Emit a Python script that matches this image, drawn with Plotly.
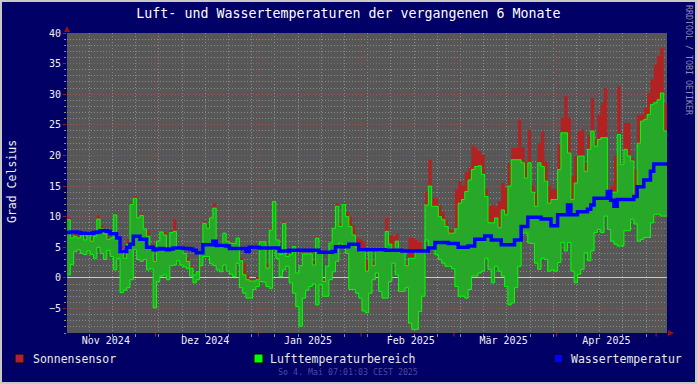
import pandas as pd
import plotly.graph_objects as go

# ---------------- data (daily values) ----------------
START = pd.Timestamp("2024-11-04 07:01:03")
END = pd.Timestamp("2025-05-04 07:01:03")

air_max = [
    9.5, 6.5, 6.8, 6.5, 7.2, 6.2, 7.5, 6.0, 6.8, 9.6,
    8.0, 7.2, 6.3, 6.5, 10.3, 6.2, 4.6, 3.2, 5.5, 12.0,
    13.0, 9.8, 10.2, 8.0, 6.8, 5.0, 2.7, 6.0, 7.5, 7.0,
    4.9, 7.4, 7.6, 4.6, 4.6, 4.0, 2.7, 1.6, 0.5, 1.0,
    4.0, 8.9, 8.1, 9.8, 11.4, 5.4, 5.0, 7.3, 6.0, 5.7,
    5.6, 6.5, 2.8, 0.5, -0.3, -0.5, -0.5, -0.3, 5.9, 5.9,
    1.6, 7.8, 12.5, 6.2, 3.8, 8.9, 3.5, 3.8, 5.1, 0.8,
    2.0, 3.9, 3.9, 3.9, 2.1, 6.5, 4.3, -0.6, 1.9, 5.7,
    8.1, 11.7, 8.4, 12.0, 10.0, 8.4, 7.0, 5.0, 4.3, 4.3,
    1.1, 4.4, 2.0, 4.5, 4.3, 4.3, 7.6, 5.5, 4.5, 6.0,
    4.3, 4.3, 2.0, 3.2, 3.2, 4.3, 4.3, 4.3, 11.9, 15.0,
    11.7, 11.7, 10.0, 9.5, 8.4, 7.3, 7.3, 8.0, 12.2, 12.8,
    14.1, 16.0, 17.7, 18.2, 18.3, 16.9, 13.3, 9.0, 9.0, 9.8,
    8.2, 11.1, 10.3, 15.0, 19.3, 19.3, 19.3, 18.8, 16.3, 18.8,
    14.0, 11.7, 18.8, 18.2, 15.8, 12.2, 12.8, 12.8, 17.7, 23.7,
    23.7, 20.4, 12.8, 15.5, 19.9, 19.9, 17.4, 21.0, 24.0, 21.5,
    22.6, 22.9, 22.9, 14.0, 14.0, 14.0, 23.4, 18.5, 21.0, 19.9,
    19.1, 13.4, 22.0, 25.6, 25.9, 26.7, 28.3, 28.6, 29.1, 30.2,
    24.0,
]

sun_max = [
    10.0, 6.5, 7.3, 7.0, 7.6, 6.2, 7.5, 6.3, 6.8, 10.2,
    8.6, 7.2, 6.6, 6.5, 10.6, 6.2, 5.2, 3.5, 6.4, 12.3,
    13.4, 9.8, 10.5, 8.0, 7.8, 5.5, 3.0, 6.0, 7.5, 7.5,
    4.9, 7.7, 9.5, 4.6, 4.6, 4.0, 3.2, 2.0, 0.8, 1.0,
    4.0, 9.2, 8.6, 9.8, 12.2, 5.4, 5.0, 7.3, 6.3, 6.0,
    5.6, 6.5, 3.3, 2.5, 0.5, -0.2, -0.2, 0.2, 5.9, 5.9,
    2.3, 8.1, 12.6, 6.2, 3.8, 9.2, 3.8, 4.0, 5.1, 0.8,
    2.0, 3.9, 3.9, 3.9, 2.7, 6.8, 4.3, -0.3, 1.9, 5.7,
    8.1, 12.2, 9.0, 12.2, 10.8, 10.0, 8.6, 6.5, 6.3, 6.0,
    3.0, 4.4, 2.5, 4.5, 4.3, 4.3, 9.8, 7.0, 6.8, 7.2,
    4.3, 4.3, 2.3, 6.5, 6.5, 6.2, 5.9, 4.3, 14.1, 19.3,
    13.0, 13.0, 11.9, 10.8, 9.5, 8.0, 7.8, 14.4, 15.8, 15.1,
    17.2, 18.0, 21.6, 21.2, 20.7, 20.1, 14.5, 11.7, 12.0, 11.7,
    12.5, 15.5, 14.7, 18.8, 21.2, 21.2, 25.8, 21.4, 19.0, 24.2,
    15.0, 13.9, 22.0, 23.9, 19.0, 15.0, 14.5, 14.5, 21.8, 26.1,
    29.7, 26.1, 16.6, 19.9, 24.0, 24.2, 18.8, 23.4, 29.4, 22.5,
    26.7, 28.6, 31.0, 14.0, 15.0, 20.0, 31.3, 18.5, 25.3, 25.3,
    19.5, 17.7, 26.7, 26.7, 27.8, 30.2, 32.4, 34.8, 36.2, 37.6,
    28.6,
]

air_min = [
    0.5, 2.2, 4.3, 4.6, 4.0, 3.8, 4.4, 3.8, 3.2, 5.0,
    4.0, 3.0, 4.5, 3.5, 1.3, 3.2, -2.4, -2.0, -1.6, -0.3,
    4.6, 3.0, 2.7, 3.0, 1.3, 1.5, -4.9, -0.6, 0.3, 0.5,
    -0.3, 2.0, 2.1, 2.8, 2.1, 1.8, 1.5, 0.3, -0.8, -0.3,
    2.0, 3.5, 3.5, 2.3, 2.0, 1.3, 1.0, 2.1, 1.1, 0.6,
    0.2, 2.4, -1.6, -2.5, -3.3, -3.3, -1.9, -1.4, -0.6, -0.7,
    -1.4, -1.7, 4.6, 3.2, 0.2, 1.3, 1.9, -0.8, -2.5, -4.7,
    -7.9, -3.3, -2.0, -1.4, -1.0, -4.4, -1.1, -3.0, -3.0, -0.3,
    1.0, 2.7, 5.7, 5.2, 4.0, -1.9, -1.9, -2.5, -3.3, -5.4,
    -5.7, -2.5, -0.3, 0.8, -2.2, -3.3, -3.3, -0.6, 2.4, 0.5,
    -2.2, -2.2, -1.6, -7.4, -8.4, -8.4, -5.5, -3.0, 6.2, 5.0,
    4.6, 3.8, 3.0, 2.4, 1.9, 1.9, 1.5, -1.4, -3.0, -3.0,
    -3.3, -1.9, 0.3, 0.3, 0.8, 1.1, 3.2, 1.4, -0.8, 1.9,
    1.1, 0.3, -1.4, -4.4, -4.1, -1.6, 1.9, 7.3, 7.3, 5.7,
    5.6, 2.4, 1.4, 3.2, 3.0, 1.1, 1.3, 1.1, 2.5, 5.8,
    4.4, 5.8, 1.1, -0.8, 0.6, 1.4, 4.1, 2.8, 4.4, 7.4,
    7.9, 7.4, 10.1, 7.9, 6.0, 5.5, 5.2, 5.2, 7.7, 7.7,
    9.6, 8.8, 6.0, 6.3, 6.6, 6.6, 9.0, 10.4, 10.4, 10.1,
    10.1,
]

water = [
    7.4, 7.5, 7.5, 7.4, 7.3, 7.3, 7.3, 7.3, 7.4, 7.5,
    7.7, 7.7, 7.6, 7.2, 7.2, 6.5, 4.3, 4.3, 5.0, 5.5,
    6.8, 6.8, 6.3, 6.3, 5.0, 5.0, 4.6, 4.7, 4.8, 4.7,
    4.6, 4.7, 4.9, 4.9, 4.9, 4.8, 4.8, 4.7, 4.5, 4.1,
    4.1, 5.4, 5.4, 5.4, 6.0, 5.3, 5.3, 5.3, 5.2, 4.8,
    4.8, 4.8, 4.8, 4.8, 4.3, 5.0, 5.0, 5.0, 4.9, 4.9,
    4.9, 4.9, 4.9, 4.9, 4.4, 4.4, 4.4, 4.5, 4.5, 4.5,
    4.5, 4.5, 4.5, 4.5, 4.5, 4.5, 4.2, 4.2, 4.2, 4.2,
    4.3, 5.1, 5.1, 5.1, 5.1, 5.5, 5.5, 5.5, 4.6, 4.6,
    4.6, 4.6, 4.6, 4.6, 4.6, 4.6, 4.5, 4.5, 4.5, 4.5,
    4.5, 4.4, 4.4, 4.4, 4.4, 4.4, 4.4, 4.4, 4.4, 4.9,
    4.9, 5.8, 5.8, 5.8, 5.8, 5.6, 5.6, 5.6, 5.0, 5.0,
    5.0, 5.2, 5.2, 6.3, 6.3, 6.3, 6.85, 6.85, 6.2, 6.2,
    6.2, 5.4, 5.4, 5.4, 5.4, 6.2, 6.2, 8.4, 8.4, 9.9,
    9.9, 9.9, 9.9, 9.6, 9.6, 9.6, 8.5, 8.5, 10.3, 10.3,
    10.3, 11.9, 10.3, 10.3, 10.8, 10.8, 10.8, 11.2, 11.9, 13.0,
    13.0, 13.0, 13.0, 14.1, 12.7, 11.7, 12.8, 12.8, 12.8, 12.8,
    12.8, 13.3, 14.9, 14.9, 16.0, 16.0, 17.4, 18.6, 18.6, 18.6,
    18.6,
]

month_starts = ["2024-12-01", "2025-01-01", "2025-02-01", "2025-03-01", "2025-04-01", "2025-05-01"]
label_dates = ["2024-11-16", "2024-12-16", "2025-01-16", "2025-02-16", "2025-03-16", "2025-04-16"]
month_labels = ["Nov 2024", "Dez 2024", "Jan 2025", "Feb 2025", "Mär 2025", "Apr 2025"]
y_ticks = [-5, 0, 5, 10, 15, 20, 25, 30, 35, 40]

legend_names = ["Sonnensensor", "Lufttemperaturbereich", "Wassertemperatur"]

# ---------------- styling ----------------
FONT = "DejaVu Sans Mono"
CANVAS = "#000066"
PLOTBG = "#575757"
RED = "#b22222"
GREEN_FILL = "#28a828"
GREEN_LINE = "#00ff00"
BLUE = "#0000ff"
MAJOR_GRID = "rgba(190,60,60,0.75)"
MINOR_GRID = "#8a8a8a"

# step x positions (start of each day) plus closing point
xs = [START + pd.Timedelta(days=i) for i in range(len(air_max))] + [END]


def close(vals):
    return list(vals) + [vals[-1]]


fig = go.Figure()

# red: from air max up to sun sensor
fig.add_trace(go.Scatter(x=xs, y=close(air_max), mode="lines", line=dict(width=0, shape="hv"),
                         hoverinfo="skip", showlegend=False))
fig.add_trace(go.Scatter(x=xs, y=close(sun_max), mode="lines", line=dict(width=0, shape="hv"),
                         fill="tonexty", fillcolor=RED, name=legend_names[0], showlegend=False))
# green range
fig.add_trace(go.Scatter(x=xs, y=close(air_min), mode="lines",
                         line=dict(width=1, color=GREEN_LINE, shape="hv"),
                         hoverinfo="skip", showlegend=False))
fig.add_trace(go.Scatter(x=xs, y=close(air_max), mode="lines",
                         line=dict(width=1, color=GREEN_LINE, shape="hv"),
                         fill="tonexty", fillcolor=GREEN_FILL, name=legend_names[1], showlegend=False))
# water
fig.add_trace(go.Scatter(x=xs, y=close(water), mode="lines",
                         line=dict(width=3.5, color=BLUE, shape="hv"),
                         name=legend_names[2], showlegend=False))

shapes = []
# month-start major grid lines
for m in month_starts:
    shapes.append(dict(type="line", xref="x", yref="paper", x0=m, x1=m, y0=0, y1=1,
                       layer="between", line=dict(color=MAJOR_GRID, width=1, dash="1px,2px")))
    shapes.append(dict(type="line", xref="x", yref="paper", x0=m, x1=m, y0=-0.012, y1=0,
                       line=dict(color="#a02020", width=1)))

PW, PH, L, T = 600.0, 300.0, 67.0, 33.0


def px(x):
    return (x - L) / PW


def py(y):
    return (T + PH - y) / PH


# arrows
shapes.append(dict(type="path", xref="paper", yref="paper",
                   path=f"M {px(64)},{py(32)} L {px(70)},{py(32)} L {px(67)},{py(26)} Z",
                   fillcolor="#9a1010", line=dict(width=0)))
shapes.append(dict(type="path", xref="paper", yref="paper",
                   path=f"M {px(668)},{py(330)} L {px(668)},{py(336)} L {px(674)},{py(333)} Z",
                   fillcolor="#9a1010", line=dict(width=0)))

# legend squares
legend_colors = ["#b0203a", GREEN_LINE, BLUE]
legend_sq_x = [15, 254, 554]
for c, x0 in zip(legend_colors, legend_sq_x):
    shapes.append(dict(type="rect", xref="paper", yref="paper",
                       x0=px(x0), x1=px(x0 + 9), y0=py(363), y1=py(354),
                       fillcolor=c, line=dict(color="#000000", width=1)))

# outer frame
shapes.append(dict(type="rect", xref="paper", yref="paper",
                   x0=px(0), x1=px(697), y0=py(384), y1=py(0),
                   line=dict(color="#c8c8c8", width=4)))

annotations = []
legend_txt_x = [31, 268, 569]
for name, x0 in zip(legend_names, legend_txt_x):
    annotations.append(dict(text=name, xref="paper", yref="paper", x=px(x0), y=py(358.5),
                            xanchor="left", yanchor="middle", showarrow=False,
                            font=dict(family=FONT, size=11.5, color="#e8e8e8")))

annotations.append(dict(text="So 4. Mai 07:01:03 CEST 2025", xref="paper", yref="paper",
                        x=px(348), y=py(372), xanchor="center", yanchor="middle", showarrow=False,
                        font=dict(family=FONT, size=8.3, color="#4c4c9a")))
annotations.append(dict(text="RRDTOOL / TOBI OETIKER", xref="paper", yref="paper",
                        x=px(689), y=py(60), xanchor="center", yanchor="middle", showarrow=False,
                        textangle=90, font=dict(family=FONT, size=8.3, color="#8c8cb4")))
annotations.append(dict(text="Grad Celsius", xref="paper", yref="paper",
                        x=px(12), y=py(182), xanchor="center", yanchor="middle", showarrow=False,
                        textangle=-90, font=dict(family=FONT, size=11.5, color="#f0f0f0")))

fig.update_layout(
    width=697, height=384,
    margin=dict(l=67, r=30, t=33, b=51),
    paper_bgcolor=CANVAS, plot_bgcolor=PLOTBG,
    showlegend=False,
    title=dict(text="Luft- und Wassertemperaturen der vergangenen 6 Monate",
               x=0.5, xref="container", xanchor="center",
               y=1 - 13.5 / 384, yref="container", yanchor="middle",
               font=dict(family=FONT, size=13.3, color="#ffffff")),
    shapes=shapes, annotations=annotations,
    xaxis=dict(type="date", range=[START, END], tickvals=label_dates, ticktext=month_labels,
               ticks="", showgrid=False, zeroline=False, showline=False,
               tickfont=dict(family=FONT, size=10, color="#f0f0f0"),
               minor=dict(dtick=7 * 86400000, tick0="2024-11-11", showgrid=True,
                          gridcolor=MINOR_GRID, griddash="1px,2px", gridwidth=1,
                          ticks="outside", ticklen=3, tickcolor="#8a8a8a"),
               fixedrange=True),
    yaxis=dict(range=[-9, 40], tickvals=y_ticks, ticks="outside", ticklen=3,
               tickcolor="#a02020", showgrid=True, gridcolor=MAJOR_GRID,
               griddash="1px,2px", gridwidth=1,
               zeroline=True, zerolinecolor="#dcc4c0", zerolinewidth=1,
               showline=False,
               tickfont=dict(family=FONT, size=10, color="#f0f0f0"),
               minor=dict(dtick=1, showgrid=True, gridcolor=MINOR_GRID, griddash="1px,2px",
                          gridwidth=1, ticks="outside", ticklen=2, tickcolor="#8a8a8a"),
               fixedrange=True),
)

fig.write_html("out.html", config={"displayModeBar": False},
               post_script="document.body.style.margin='0';")
